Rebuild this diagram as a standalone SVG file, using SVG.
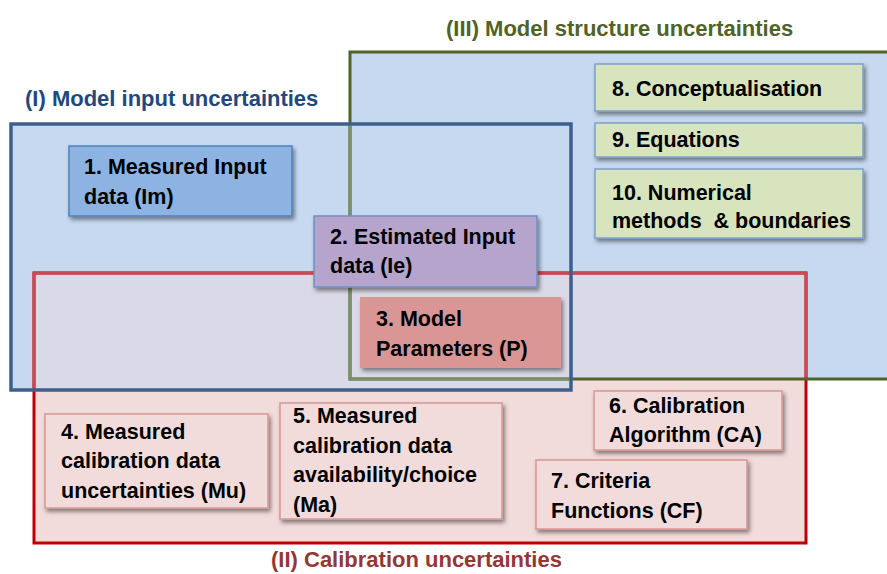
<svg xmlns="http://www.w3.org/2000/svg" width="887" height="574" viewBox="0 0 887 574">
<style>
text{font-family:"Liberation Sans",Arial,sans-serif;font-weight:bold;font-size:21.5px;fill:#000;white-space:pre}
.title{font-size:22px}
.box{stroke-width:1.5}
.g{fill:#d7e4bd;stroke:#7f9fca}
.p{fill:#f2dcdb;stroke:#d99694}
</style>
<defs>
<filter id="sh" x="-10%" y="-10%" width="130%" height="140%">
<feDropShadow dx="2" dy="3" stdDeviation="2" flood-color="#000" flood-opacity="0.45"/>
</filter>
<clipPath id="inBG"><rect x="11" y="124" width="560" height="266"/><rect x="350" y="52" width="540" height="327"/></clipPath>
<clipPath id="inB"><rect x="11" y="124" width="560" height="266"/></clipPath>
</defs>
<rect width="887" height="574" fill="#fff"/>
<g id="regions">
<rect x="34" y="273" width="772" height="270" fill="#f2dcdb"/>
<rect x="350" y="52" width="540" height="327" fill="#c6d9f1"/>
<rect x="11" y="124" width="560" height="266" fill="#c6d9f1"/>
<rect x="34" y="273" width="537" height="117" fill="#dad9e7"/>
<rect x="350" y="273" width="456" height="106" fill="#dad9e7"/>
<g id="region-II">
<rect x="34" y="273" width="772" height="270" fill="none" stroke="#c00000" stroke-width="3"/>
<rect x="34" y="273" width="772" height="270" fill="none" stroke="#c84a55" stroke-width="3" clip-path="url(#inBG)"/>
</g>
<g id="region-III">
<rect x="350" y="52" width="540" height="327" fill="none" stroke="#4f6228" stroke-width="3"/>
<rect x="350" y="52" width="540" height="327" fill="none" stroke="#7b8f68" stroke-width="3" clip-path="url(#inB)"/>
</g>
<g id="region-I">
<rect x="11" y="124" width="560" height="266" fill="none" stroke="#3c5f8c" stroke-width="3.5"/>
</g>
</g>
<g id="connectors"/>
<g id="n1"><rect class="box" x="69" y="146" width="223" height="70" fill="#8db3e2" stroke="#4f81bd" filter="url(#sh)"/><text x="84" y="174">1. Measured Input</text><text x="84" y="204">data (Im)</text></g>
<g id="n2"><rect class="box" x="314" y="216" width="223" height="71" fill="#b7a4cc" stroke="#6f8fc4" filter="url(#sh)"/><text x="330" y="244">2. Estimated Input</text><text x="330" y="273">data (Ie)</text></g>
<g id="n3"><rect x="360" y="297" width="201" height="71" fill="#da9694" filter="url(#sh)"/><text x="376" y="326">3. Model</text><text x="376" y="356">Parameters (P)</text></g>
<g id="n4"><rect class="box p" x="45" y="414" width="223" height="94" filter="url(#sh)"/><text x="61" y="439">4. Measured</text><text x="61" y="468">calibration data</text><text x="61" y="498">uncertainties (Mu)</text></g>
<g id="n5"><rect class="box p" x="280" y="403" width="222" height="116" filter="url(#sh)"/><text x="293" y="423">5. Measured</text><text x="293" y="453">calibration data</text><text x="293" y="482">availability/choice</text><text x="293" y="512">(Ma)</text></g>
<g id="n6"><rect class="box p" x="594" y="391" width="188" height="59" filter="url(#sh)"/><text x="609" y="413">6. Calibration</text><text x="609" y="442">Algorithm (CA)</text></g>
<g id="n7"><rect class="box p" x="536" y="460" width="211" height="69" filter="url(#sh)"/><text x="551" y="488">7. Criteria</text><text x="551" y="518">Functions (CF)</text></g>
<g id="n8"><rect class="box g" x="595" y="64" width="268" height="47" filter="url(#sh)"/><text x="612" y="96">8. Conceptualisation</text></g>
<g id="n9"><rect class="box g" x="595" y="123" width="268" height="34" filter="url(#sh)"/><text x="612" y="147">9. Equations</text></g>
<g id="n10"><rect class="box g" x="595" y="169" width="268" height="69" filter="url(#sh)"/><text x="612" y="200">10. Numerical</text><text x="612" y="228">methods  &amp; boundaries</text></g>
<g id="titles">
<text class="title" x="446" y="36" style="fill:#4f6228">(III) Model structure uncertainties</text>
<text class="title" x="25" y="106" style="fill:#1f497d">(I) Model input uncertainties</text>
<text class="title" x="271" y="567" style="fill:#953735">(II) Calibration uncertainties</text>
</g>
</svg>
